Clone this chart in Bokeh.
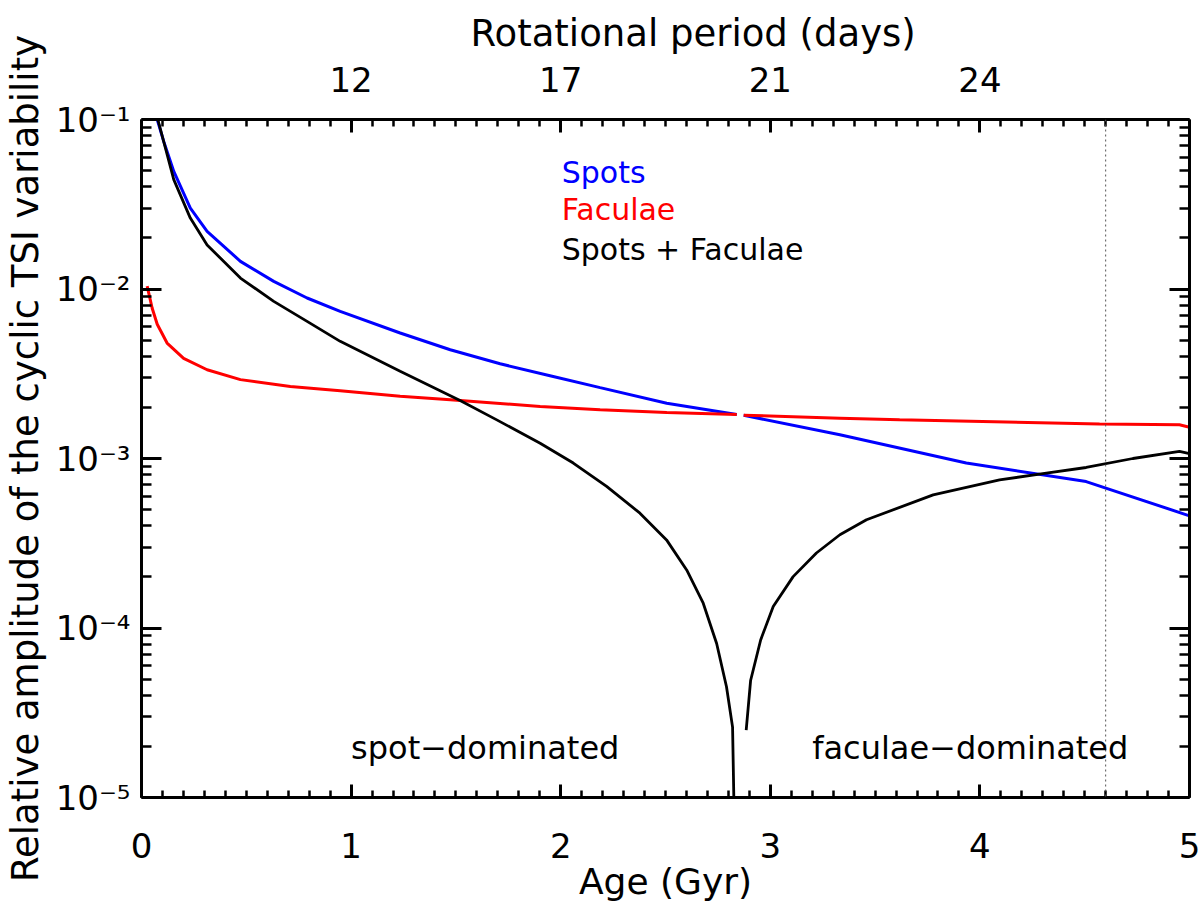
from bokeh.plotting import figure
from bokeh.models import Range1d, FixedTicker, LinearAxis, LogAxis, Label, Span
from bokeh.embed import file_html
from bokeh.resources import INLINE

nan = float('nan')

# values (age in Gyr, relative amplitude)
spots_age = [0.075, 0.106, 0.154, 0.233, 0.313, 0.472, 0.631, 0.790, 0.948, 1.234,
             1.473, 1.711, 1.949, 2.188, 2.506, 2.840, nan,
             2.873, 3.332, 3.935, 4.507, 5.000]
spots_amp = [0.100, 0.0743, 0.0494, 0.0300, 0.0219, 0.01456, 0.01109, 0.00885, 0.00738, 0.0055,
             0.00438, 0.00362, 0.00308, 0.00262, 0.00212, 0.00182, nan,
             0.00180, 0.00138, 0.00094, 0.000731, 0.000459]

faculae_age = [0.027, 0.051, 0.075, 0.122, 0.201, 0.313, 0.472, 0.710, 0.948, 1.234,
               1.473, 1.902, 2.188, 2.506, 2.840, nan,
               2.873, 3.332, 3.617, 4.571, 4.952, 5.000]
faculae_amp = [0.0104, 0.0077, 0.0062, 0.0048, 0.0039, 0.00334, 0.00292, 0.00266, 0.00251, 0.00233,
               0.00222, 0.00203, 0.00194, 0.00187, 0.00182, nan,
               0.00180, 0.00173, 0.00169, 0.00160, 0.00158, 0.00153]

total_age = [0.078, 0.154, 0.233, 0.313, 0.472, 0.631, 0.790, 0.948, 1.234, 1.520,
             1.695, 1.902, 2.060, 2.219, 2.378, 2.505, 2.601, 2.680, 2.744, 2.791,
             2.820, 2.826, 2.829, nan,
             2.885, 2.906, 2.954, 3.014, 3.109, 3.220, 3.332, 3.459, 3.777, 4.094,
             4.317, 4.507, 4.730, 4.952, 5.000]
total_amp = [0.100, 0.0442, 0.0262, 0.0182, 0.0116, 0.00845, 0.00644, 0.00491, 0.00327, 0.00220,
             0.00169, 0.00123, 0.00094, 0.000684, 0.000476, 0.000331, 0.000220, 0.000140, 8.1e-5, 4.5e-5,
             2.6e-5, 1.0e-5, 4e-6, nan,
             2.5e-5, 4.9e-5, 8.5e-5, 1.34e-4, 2.01e-4, 2.77e-4, 3.55e-4, 4.35e-4, 6.1e-4, 7.48e-4,
             8.2e-4, 8.85e-4, 1.0e-3, 1.10e-3, 1.07e-3]

sun_age = 4.6

age_ticks = [0, 1, 2, 3, 4, 5]
period_tick_age = [1, 2, 3, 4]
period_labels = ["12", "17", "21", "24"]
amp_ticks = [1e-5, 1e-4, 1e-3, 1e-2, 1e-1]
amp_labels = ["10⁻⁵", "10⁻⁴", "10⁻³", "10⁻²", "10⁻¹"]

FONT = "DejaVu Sans"

p = figure(frame_width=1048, frame_height=678, y_axis_type="log",
           x_range=Range1d(0, 5), y_range=Range1d(1e-5, 1e-1),
           output_backend="svg", toolbar_location=None,
           min_border_left=137, min_border_right=11, min_border_top=119, min_border_bottom=103)
p.grid.visible = False
p.outline_line_color = None
p.background_fill_color = "white"
p.border_fill_color = "white"

x_minor = [i / 10 for i in range(51)]
y_minor = [m * 10.0 ** e for e in range(-5, -1) for m in range(2, 10)]


def style_axis(ax, major_in, minor_in, standoff):
    ax.axis_line_width = 3
    ax.axis_line_color = "black"
    ax.major_tick_in = major_in
    ax.major_tick_out = 0
    ax.minor_tick_in = minor_in
    ax.minor_tick_out = 0
    ax.major_tick_line_width = 3
    ax.minor_tick_line_width = 2.5
    ax.major_tick_line_color = "black"
    ax.minor_tick_line_color = "black"
    ax.major_label_text_font = FONT
    ax.major_label_text_font_size = "34px"
    ax.major_label_text_color = "black"
    ax.major_label_standoff = standoff
    ax.axis_label_text_font = FONT
    ax.axis_label_text_font_size = "36px"
    ax.axis_label_text_font_style = "normal"
    ax.axis_label_text_color = "black"


# bottom axis
xb = p.xaxis[0]
xb.ticker = FixedTicker(ticks=age_ticks, minor_ticks=x_minor)
xb.axis_label = "Age (Gyr)"
style_axis(xb, 13, 7, 35)
xb.axis_label_standoff = 0

# left axis
yl = p.yaxis[0]
yl.ticker = FixedTicker(ticks=amp_ticks, minor_ticks=y_minor)
yl.major_label_overrides = dict(zip(amp_ticks, amp_labels))
yl.axis_label = "Relative amplitude of the cyclic TSI variability"
style_axis(yl, 20, 10, 11)
yl.axis_label_text_font_size = "37px"
yl.axis_label_standoff = 6

# top axis: rotational period
xt = LinearAxis(ticker=FixedTicker(ticks=period_tick_age, minor_ticks=x_minor))
xt.major_label_overrides = dict(zip(period_tick_age, period_labels))
style_axis(xt, 13, 7, 28)
p.add_layout(xt, "above")

# the top title sits right of centre in the original, so it is the plot title shifted
p.title.text = "Rotational period (days)"
p.title.align = "left"
p.title.offset = 329
p.title.text_font = FONT
p.title.text_font_size = "37px"
p.title.text_font_style = "normal"
p.title.text_color = "black"
p.title.text_line_height = 0.7
p.title.standoff = 17

# right axis, ticks only
yr = LogAxis(ticker=FixedTicker(ticks=amp_ticks, minor_ticks=y_minor))
yr.major_label_overrides = {t: "" for t in amp_ticks}
style_axis(yr, 20, 10, 0)
p.add_layout(yr, "right")

p.add_layout(Span(location=sun_age, dimension="height", line_color="#555555",
                  line_width=1, line_dash="2 3"))

p.line(spots_age, spots_amp, line_color="#0000ff", line_width=3)
p.line(faculae_age, faculae_amp, line_color="#ff0000", line_width=3)
p.line(total_age, total_amp, line_color="black", line_width=2.8)

legend_items = [("Spots", "#0000ff", 0.0488), ("Faculae", "#ff0000", 0.02938),
                ("Spots + Faculae", "black", 0.01706)]
for txt, col, yv in legend_items:
    p.add_layout(Label(x=2.005, y=yv, text=txt, text_color=col, text_font=FONT,
                       text_font_size="30px", text_baseline="alphabetic"))

p.add_layout(Label(x=1.0, y=1.96e-5, text="spot\u2212dominated", text_font=FONT,
                   text_color="black", text_font_size="32px", text_baseline="alphabetic"))
p.add_layout(Label(x=3.2, y=1.96e-5, text="faculae\u2212dominated", text_font=FONT,
                   text_color="black", text_font_size="32px", text_baseline="alphabetic"))

open("out.html", "w").write(file_html(p, INLINE))
